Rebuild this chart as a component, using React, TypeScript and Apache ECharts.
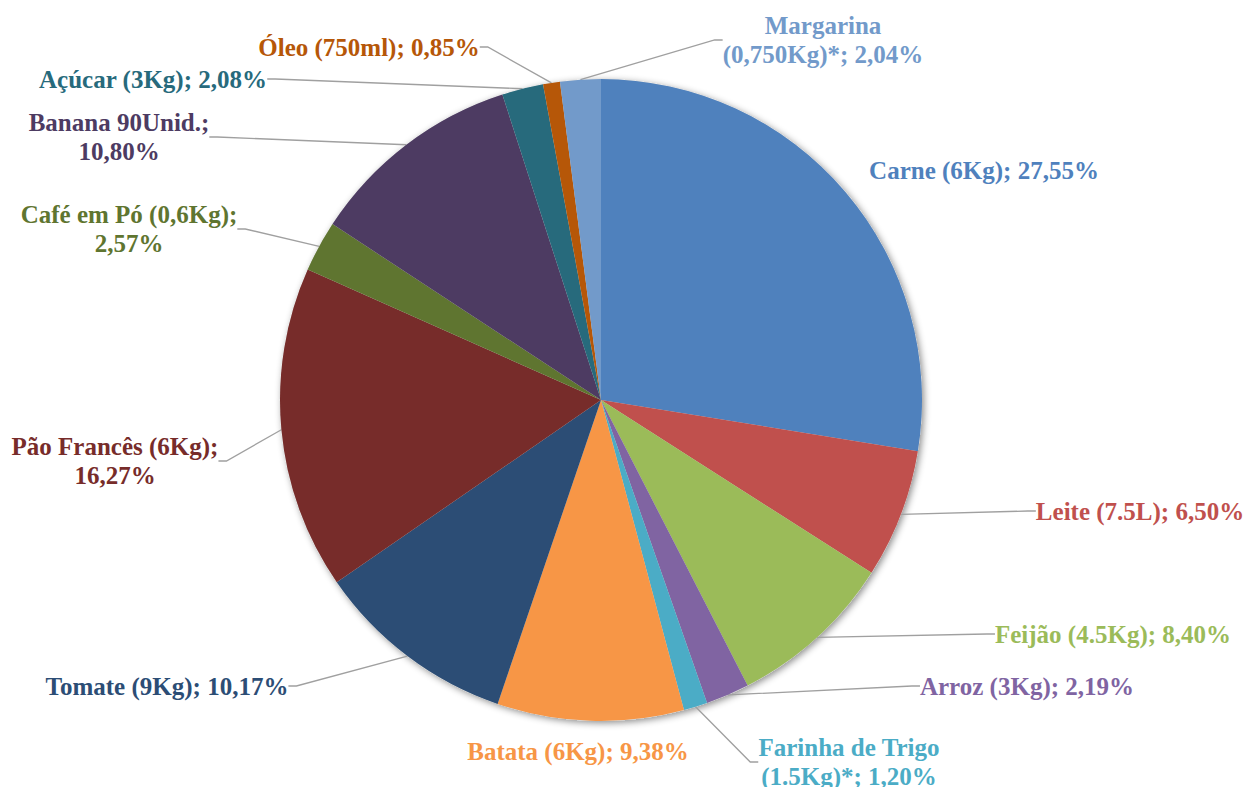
import React, { useEffect, useRef } from "react";
import * as echarts from "echarts";

const names = [
  "Carne (6Kg)",
  "Leite (7.5L)",
  "Feijão (4.5Kg)",
  "Arroz (3Kg)",
  "Farinha de Trigo\n(1.5Kg)*",
  "Batata (6Kg)",
  "Tomate (9Kg)",
  "Pão Francês (6Kg)",
  "Café em Pó (0,6Kg)",
  "Banana 90Unid.",
  "Açúcar (3Kg)",
  "Óleo (750ml)",
  "Margarina\n(0,750Kg)*",
];
const values = [27.55, 6.5, 8.4, 2.19, 1.2, 9.38, 10.17, 16.27, 2.57, 10.8, 2.08, 0.85, 2.04];
const colors = [
  "#4F81BD", "#C0504D", "#9BBB59", "#8064A2", "#4BACC6", "#F79646",
  "#2C4D75", "#772C2A", "#5F7530", "#4D3B62", "#276A7C", "#B65708", "#729ACA",
];
// value goes to a new line after the semicolon
const wrapValue = [false, false, false, false, false, false, false, true, true, true, false, false, false];
// labels placed right next to their slice, drawn without a leader line
const noLine = [true, false, false, false, false, true, false, false, false, false, false, false, false];
// label centres (layout)
const labelPos: [number, number][] = [
  [984, 170], [1140, 511], [1113, 634], [1027, 686], [849, 762], [578, 751],
  [167, 686], [115, 461], [129, 229], [119, 137], [153, 79], [369, 47], [823, 40],
];

const fmt = (v: number) => v.toFixed(2).replace(".", ",") + "%";

export default function App() {
  const ref = useRef<HTMLDivElement>(null);
  useEffect(() => {
    if (!ref.current) return;
    const chart = echarts.init(ref.current, undefined, { renderer: "svg" });
    const center = [601, 400];
    const radius = 321;
    chart.setOption({
      animation: false,
      backgroundColor: "#ffffff",
      series: [
        {
          type: "pie",
          silent: true,
          center,
          radius,
          z: 1,
          label: { show: false },
          labelLine: { show: false },
          itemStyle: {
            color: "#dddddd",
            shadowBlur: 7,
            shadowColor: "rgba(0,0,0,0.45)",
            shadowOffsetX: 2,
            shadowOffsetY: 2,
          },
          data: [{ value: 1, name: "" }],
        },
        {
          type: "pie",
          center,
          radius,
          z: 2,
          startAngle: 90,
          clockwise: true,
          avoidLabelOverlap: false,
          itemStyle: { borderWidth: 0 },
          label: {
            show: true,
            fontFamily: "'Liberation Serif', 'DejaVu Serif', 'Times New Roman', serif",
            fontWeight: "bold",
            fontSize: 25,
            lineHeight: 29,
            formatter: (p: any) =>
              `${names[p.dataIndex]};${wrapValue[p.dataIndex] ? "\n" : " "}${fmt(values[p.dataIndex])}`,
          },
          labelLine: {
            show: true,
            length: 10,
            length2: 8,
            smooth: false,
            lineStyle: { color: "#A0A0A0", width: 1.3 },
          },
          labelLayout: (params: any) => {
            const p = labelPos[params.dataIndex];
            return { x: p[0], y: p[1], align: "center", verticalAlign: "middle" };
          },
          data: values.map((v, i) => ({
            value: v,
            name: names[i],
            itemStyle: { color: colors[i] },
            label: { color: colors[i] },
            labelLine: { show: !noLine[i] },
          })),
        },
      ],
    });
    return () => chart.dispose();
  }, []);
  return (
    <div
      ref={ref}
      style={{ position: "fixed", left: 0, top: 0, width: "1248px", height: "787px" }}
    />
  );
}
